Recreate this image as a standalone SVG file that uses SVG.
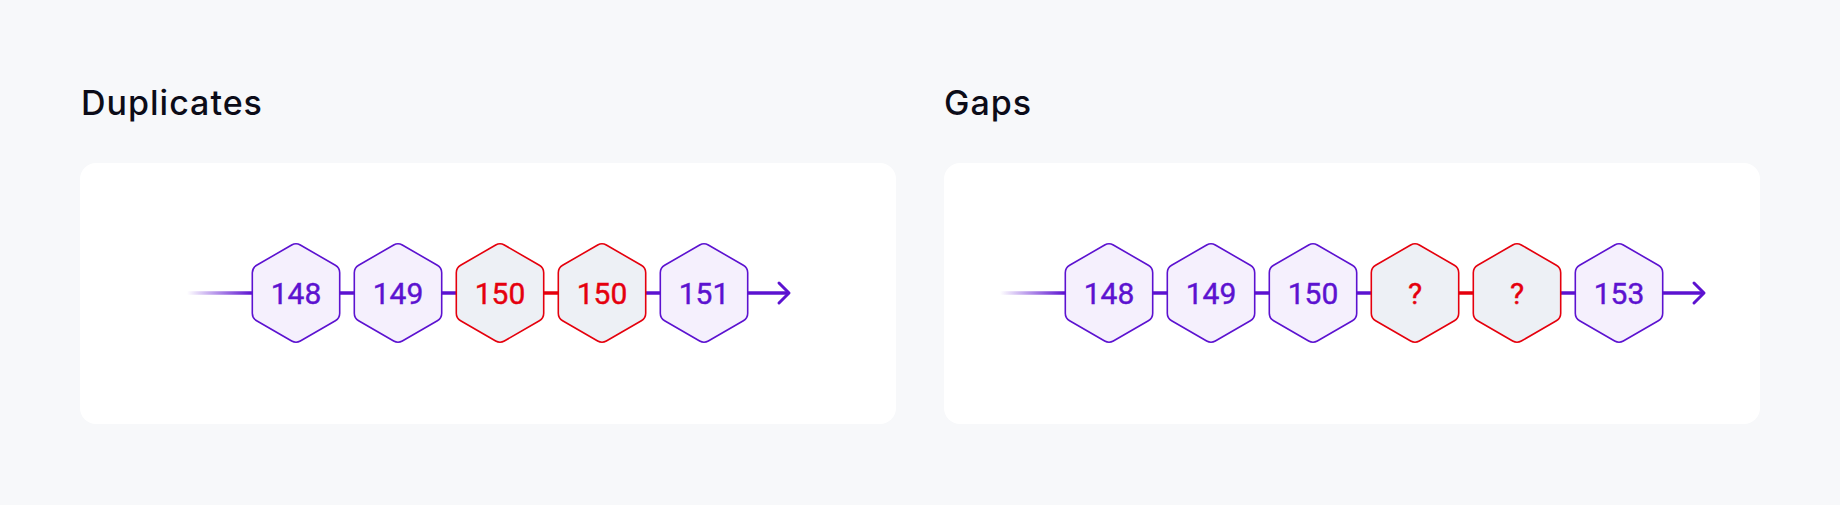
<svg xmlns="http://www.w3.org/2000/svg" width="1840" height="505" viewBox="0 0 1840 505">
  <style>
    .title { font-family: Inter, "Noto Sans", "Liberation Sans", sans-serif; font-size: 34px; font-weight: 500; letter-spacing: 1px; fill: #0c0c18; }
    .panel { fill: #ffffff; }
    .hex-ok { fill: #f5f0fd; stroke: #5c12d0; stroke-width: 1.6; }
    .hex-bad { fill: #edf0f5; stroke: #e5000d; stroke-width: 1.6; }
    .num { font-family: Roboto, "Liberation Sans", sans-serif; font-size: 30px; font-weight: 400; text-anchor: middle; stroke-width: 0.4px; }
    .num-ok { fill: #5c12d0; stroke: #5c12d0; }
    .num-bad { fill: #e5000d; stroke: #e5000d; }
    .link-ok { stroke: #5c12d0; stroke-width: 3.5; fill: none; }
    .link-bad { stroke: #e5000d; stroke-width: 3.5; fill: none; }
    .arrowhead { stroke: #5c12d0; stroke-width: 3; fill: none; stroke-linecap: round; stroke-linejoin: round; }
  </style>
  <defs>
    <linearGradient id="fadeL" gradientUnits="userSpaceOnUse" x1="187" y1="0" x2="252" y2="0">
      <stop offset="0" stop-color="#5c12d0" stop-opacity="0"/>
      <stop offset="1" stop-color="#5c12d0" stop-opacity="1"/>
    </linearGradient>
    <linearGradient id="fadeR" gradientUnits="userSpaceOnUse" x1="1000" y1="0" x2="1065" y2="0">
      <stop offset="0" stop-color="#5c12d0" stop-opacity="0"/>
      <stop offset="1" stop-color="#5c12d0" stop-opacity="1"/>
    </linearGradient>
    <path id="hex" d="M 4.33,-48 L 39.37,-27.75 Q 43.7,-25.25 43.7,-20.25 L 43.7,20.25 Q 43.7,25.25 39.37,27.75 L 4.33,48 Q 0,50.5 -4.33,48 L -39.37,27.75 Q -43.7,25.25 -43.7,20.25 L -43.7,-20.25 Q -43.7,-25.25 -39.37,-27.75 L -4.33,-48 Q 0,-50.5 4.33,-48 Z"/>
  </defs>

  <rect width="1840" height="505" fill="#f7f8fa"/>

  <text class="title" x="81" y="115">Duplicates</text>
  <text class="title" x="944" y="115">Gaps</text>

  <rect class="panel" x="80" y="163" width="816" height="261" rx="16"/>
  <rect class="panel" x="944" y="163" width="816" height="261" rx="16"/>

  <g id="connectors">
    <line x1="187" y1="293" x2="252.5" y2="293" stroke="url(#fadeL)" stroke-width="3.5"/>
    <line class="link-ok" x1="339" y1="293" x2="355" y2="293"/>
    <line class="link-ok" x1="441" y1="293" x2="457" y2="293"/>
    <line class="link-bad" x1="543" y1="293" x2="559" y2="293"/>
    <line class="link-ok" x1="645" y1="293" x2="661" y2="293"/>
    <line class="link-ok" x1="747" y1="293" x2="789" y2="293"/>
    <polyline class="arrowhead" points="779,283 789,293 779,303"/>

    <line x1="1000" y1="293" x2="1065.5" y2="293" stroke="url(#fadeR)" stroke-width="3.5"/>
    <line class="link-ok" x1="1152" y1="293" x2="1168" y2="293"/>
    <line class="link-ok" x1="1254" y1="293" x2="1270" y2="293"/>
    <line class="link-ok" x1="1356" y1="293" x2="1372" y2="293"/>
    <line class="link-bad" x1="1458" y1="293" x2="1474" y2="293"/>
    <line class="link-ok" x1="1560" y1="293" x2="1576" y2="293"/>
    <line class="link-ok" x1="1662" y1="293" x2="1704" y2="293"/>
    <polyline class="arrowhead" points="1694,283 1704,293 1694,303"/>
  </g>

  <g id="dup-148" transform="translate(296,293)"><use href="#hex" class="hex-ok"/><text class="num num-ok" x="0" y="11">148</text></g>
  <g id="dup-149" transform="translate(398,293)"><use href="#hex" class="hex-ok"/><text class="num num-ok" x="0" y="11">149</text></g>
  <g id="dup-150a" transform="translate(500,293)"><use href="#hex" class="hex-bad"/><text class="num num-bad" x="0" y="11">150</text></g>
  <g id="dup-150b" transform="translate(602,293)"><use href="#hex" class="hex-bad"/><text class="num num-bad" x="0" y="11">150</text></g>
  <g id="dup-151" transform="translate(704,293)"><use href="#hex" class="hex-ok"/><text class="num num-ok" x="0" y="11">151</text></g>

  <g id="gap-148" transform="translate(1109,293)"><use href="#hex" class="hex-ok"/><text class="num num-ok" x="0" y="11">148</text></g>
  <g id="gap-149" transform="translate(1211,293)"><use href="#hex" class="hex-ok"/><text class="num num-ok" x="0" y="11">149</text></g>
  <g id="gap-150" transform="translate(1313,293)"><use href="#hex" class="hex-ok"/><text class="num num-ok" x="0" y="11">150</text></g>
  <g id="gap-q1" transform="translate(1415,293)"><use href="#hex" class="hex-bad"/><text class="num num-bad" x="0" y="11">?</text></g>
  <g id="gap-q2" transform="translate(1517,293)"><use href="#hex" class="hex-bad"/><text class="num num-bad" x="0" y="11">?</text></g>
  <g id="gap-153" transform="translate(1619,293)"><use href="#hex" class="hex-ok"/><text class="num num-ok" x="0" y="11">153</text></g>
</svg>
